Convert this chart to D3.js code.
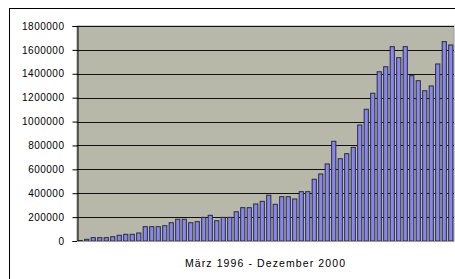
<!DOCTYPE html>
<html>
<head>
<meta charset="utf-8">
<script src="https://cdn.jsdelivr.net/npm/d3@7"></script>
<style>
body { margin:0; background:#fff; }
</style>
</head>
<body>
<div id="chart"></div>
<script>
// months Maerz 1996 .. Dezember 2000
var months = [
  '03/96','04/96','05/96','06/96','07/96','08/96','09/96','10/96','11/96','12/96',
  '01/97','02/97','03/97','04/97','05/97','06/97','07/97','08/97','09/97','10/97','11/97','12/97',
  '01/98','02/98','03/98','04/98','05/98','06/98','07/98','08/98','09/98','10/98','11/98','12/98',
  '01/99','02/99','03/99','04/99','05/99','06/99','07/99','08/99','09/99','10/99','11/99','12/99',
  '01/00','02/00','03/00','04/00','05/00','06/00','07/00','08/00','09/00','10/00','11/00','12/00'
];

var values = [
  4000, 14000, 28000, 28000, 28000, 36000, 48000, 56000, 56000, 67000,
  120000, 120000, 120000, 128000, 153000, 182000, 182000, 153000, 162000, 198000, 215000, 170000,
  198000, 198000, 245000, 279000, 279000, 310000, 332000, 383000, 307000, 371000, 371000, 352000,
  413000, 413000, 517000, 561000, 645000, 835000, 689000, 731000, 784000, 971000, 1103000, 1237000,
  1417000, 1459000, 1627000, 1535000, 1627000, 1384000, 1342000, 1258000, 1298000, 1482000, 1669000, 1641000
];

var yTicks = [0, 200000, 400000, 600000, 800000, 1000000, 1200000, 1400000, 1600000, 1800000];
var xTitle = 'März 1996 - Dezember 2000';

var width = 455, height = 279;
var plot = {left:77, right:454, top:26, bottom:241};

var svg = d3.select('#chart').append('svg')
    .attr('width', width)
    .attr('height', height)
    .style('font-family', 'Liberation Sans, Arial, sans-serif');

// outer frame (runs off the picture on the right and bottom)
svg.append('rect')
    .attr('x', 9.5).attr('y', 8.5)
    .attr('width', 520).attr('height', 320)
    .style('fill', '#fff')
    .style('stroke', '#000');

var yScale = d3.scaleLinear()
    .domain([0, 1800000])
    .range([plot.bottom, plot.top]);

var xScale = d3.scaleBand()
    .domain(months)
    .range([plot.left, plot.right])
    .paddingInner(0.36)
    .paddingOuter(0.18);

// plot area
svg.append('rect')
    .attr('x', plot.left).attr('y', plot.top)
    .attr('width', plot.right - plot.left)
    .attr('height', plot.bottom - plot.top)
    .style('fill', '#b8b8aa')
    .style('stroke', '#9a9aac');

// gridlines
svg.append('g').selectAll('line')
    .data(yTicks.slice(1))
    .enter().append('line')
    .attr('x1', plot.left).attr('x2', plot.right)
    .attr('y1', function(d){ return Math.round(yScale(d)) + 0.5; })
    .attr('y2', function(d){ return Math.round(yScale(d)) + 0.5; })
    .style('stroke', '#111')
    .style('stroke-width', 1.2);

// bars
svg.append('g').selectAll('rect')
    .data(values)
    .enter().append('rect')
    .attr('x', function(d,i){ return xScale(months[i]); })
    .attr('width', xScale.bandwidth())
    .attr('y', function(d){ return yScale(d); })
    .attr('height', function(d){ return plot.bottom - yScale(d); })
    .style('fill', '#8787f4')
    .style('stroke', '#2a2a3a')
    .style('stroke-width', 1);

// y axis
var yAxis = d3.axisLeft(yScale)
    .tickValues(yTicks)
    .tickFormat(d3.format('d'))
    .tickSize(5)
    .tickPadding(8);

var yGuide = svg.append('g')
    .attr('transform', 'translate(' + (plot.left + 0.5) + ',0)')
    .call(yAxis);
yGuide.select('.domain').style('stroke', '#000');
yGuide.selectAll('line').style('stroke', '#000');
yGuide.selectAll('text')
    .style('font-size', '10px')
    .style('letter-spacing', '0.5px')
    .style('font-family', 'Liberation Sans, Arial, sans-serif')
    .style('fill', '#000');

// x axis baseline
svg.append('line')
    .attr('x1', plot.left).attr('x2', plot.right)
    .attr('y1', plot.bottom + 0.5).attr('y2', plot.bottom + 0.5)
    .style('stroke', '#9a9aac');

// x title
svg.append('text')
    .attr('x', (plot.left + plot.right) / 2)
    .attr('y', 267)
    .attr('text-anchor', 'middle')
    .style('font-size', '10.5px')
    .style('letter-spacing', '1.1px')
    .style('fill', '#000')
    .text(xTitle);
</script>
</body>
</html>
